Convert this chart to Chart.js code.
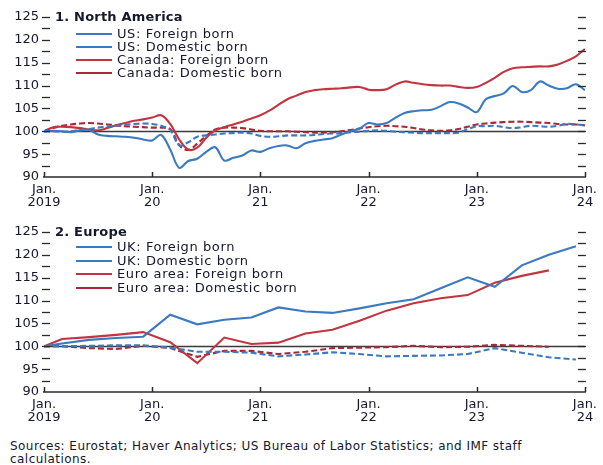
<!DOCTYPE html>
<html>
<head>
<meta charset="utf-8">
<script src="https://cdn.jsdelivr.net/npm/chart.js@4.4.1/dist/chart.umd.min.js"></script>
<style>
  html, body { margin: 0; padding: 0; background: #fff; }
  body { width: 603px; height: 465px; position: relative; overflow: hidden;
         font-family: "DejaVu Sans", "Liberation Sans", sans-serif; color: #16162e; }
  .cv { position: absolute; left: 0; }
  .title { position: absolute; left: 55px; font-weight: bold; font-size: 13px; line-height: 16px; white-space: nowrap; letter-spacing: 0.2px; }
  .lg-line { position: absolute; left: 76px; width: 36px; height: 0; border-top: 2px solid; }
  .lg-text { position: absolute; left: 117px; font-size: 13px; line-height: 16px; white-space: nowrap; letter-spacing: 0.6px; }
  .foot { position: absolute; left: 10px; top: 440px; font-size: 12px; line-height: 13px; white-space: nowrap; letter-spacing: 0.45px; }
</style>
</head>
<body>
<canvas id="c1" class="cv" width="603" height="210" style="top:0px"></canvas>
<canvas id="c2" class="cv" width="603" height="210" style="top:215px"></canvas>

<div class="title" style="top:9px">1. North America</div>
<div id="lg1"></div>
<div class="title" style="top:224px">2. Europe</div>
<div id="lg2"></div>

<div class="foot">Sources: Eurostat; Haver Analytics; US Bureau of Labor Statistics; and IMF staff<br>calculations.</div>

<script>
// ---------- data ----------
const yearLabels = ['2019', '20', '21', '22', '23', '24'];

// Panel 1: monthly, Jan 2019 (index 0) to Jan 2024 (index 60)
const usForeign = [100.0,100.1,100.0,99.8,100.2,100.3,99.3,99.0,98.9,98.8,98.6,98.2,98.0,99.2,96.0,92.0,93.5,94.0,95.5,96.5,93.6,94.2,94.7,95.8,95.5,96.3,96.8,96.9,
  96.3,97.4,97.9,98.2,98.5,99.3,100.0,100.6,101.8,101.5,101.8,103.0,104.0,104.4,104.6,104.7,105.5,106.4,106.1,105.2,104.2,107.0,107.7,108.3,109.9,108.6,109.0,110.9,110.0,109.3,109.4,110.3,109.0];
const usDomestic = [100.0,100.0,99.9,100.0,100.3,100.5,100.8,101.0,101.2,101.4,101.6,101.7,101.6,101.2,100.3,96.9,97.6,98.8,99.1,99.3,99.5,99.6,99.7,99.5,99.0,98.8,98.9,99.1,
  99.1,99.1,99.2,99.4,99.5,99.6,99.8,99.9,100.1,100.2,100.1,99.9,99.8,99.7,99.6,99.6,99.6,99.6,99.7,100.5,101.1,101.1,101.2,100.9,100.7,100.9,101.2,101.1,101.0,101.2,101.6,101.5,101.3];
const canadaForeign = [100.0,100.9,101.0,100.9,100.7,100.4,100.2,100.7,101.3,101.8,102.3,102.6,103.0,103.5,101.6,98.2,96.0,96.4,98.6,100.2,100.9,101.5,102.1,102.8,103.5,104.5,105.8,107.0,
  107.8,108.6,109.0,109.2,109.3,109.4,109.6,109.7,109.1,109.0,109.2,110.2,110.9,110.6,110.3,110.1,110.0,110.0,109.7,109.5,109.7,110.6,111.7,113.0,113.8,114.0,114.1,114.2,114.2,114.6,115.4,116.4,118.0];
const canadaDomestic = [100.0,100.7,101.2,101.5,101.7,101.8,101.7,101.5,101.3,101.1,101.0,100.9,100.8,100.8,100.5,97.0,95.9,97.3,99.0,100.4,100.8,100.8,100.7,100.4,100.1,100.0,100.0,100.0,
  99.9,99.8,99.7,99.7,99.8,100.0,100.3,100.6,100.9,101.1,101.2,101.1,101.0,100.7,100.4,100.2,100.1,100.2,100.5,101.0,101.5,101.7,101.9,102.0,102.1,102.1,102.0,101.9,101.8,101.6,101.5,101.5,101.3];

// Panel 2: quarterly observations, at month index from Jan 2019
const europeMonths = [0,2,5,8,11,14,17,20,23,26,29,32,35,38,41,44,47,50,53,56,59];
const ukForeign = [100.0,100.6,101.4,101.8,102.1,106.9,104.8,105.8,106.3,108.5,107.6,107.3,108.3,109.4,110.3,112.7,115.1,113.0,117.7,120.0,121.9];
const ukDomestic = [100.0,100.0,100.1,100.2,100.2,99.7,98.8,98.8,98.6,97.8,98.2,98.7,98.3,97.8,97.9,98.0,98.3,99.6,98.6,97.6,97.1];
const euroForeign = [100.0,101.6,102.0,102.5,103.1,100.9,96.3,101.9,100.5,100.8,102.8,103.6,105.6,107.8,109.4,110.5,111.2,113.9,115.4,116.6,null];
const euroDomestic = [100.0,100.0,99.6,99.4,100.1,99.6,97.7,99.0,99.0,98.3,98.8,99.6,99.7,99.8,100.1,99.8,99.9,100.3,100.1,99.9,null];

// ---------- styling ----------
const BLUE = '#3b79c0';
const RED = '#c2343f';
const DRED = '#a92738';
const TXT = '#16162e';
const FONT = "'DejaVu Sans', 'Liberation Sans', sans-serif";

function monthlyPoints(arr) { return arr.map((v, i) => ({ x: i, y: v })); }
function quarterPoints(arr) { return arr.map((v, i) => ({ x: europeMonths[i], y: v })).filter(p => p.y !== null); }

const axesPlugin = {
  id: 'axesPlugin',
  beforeDatasetsDraw(chart) {
    const { ctx, chartArea: a, scales: { y } } = chart;
    const py = Math.round(y.getPixelForValue(100)) + 0.5;
    ctx.save();
    ctx.strokeStyle = '#3a3a3a';
    ctx.lineWidth = 1.5;
    ctx.beginPath(); ctx.moveTo(a.left, py); ctx.lineTo(a.right, py); ctx.stroke();
    ctx.restore();
  },
  afterDraw(chart) {
    const { ctx, chartArea: a, scales: { x, y } } = chart;
    ctx.save();
    ctx.strokeStyle = '#2a2a2a';
    ctx.lineWidth = 1.5;
    ctx.beginPath(); ctx.moveTo(a.left - 1, a.bottom); ctx.lineTo(a.right + 1, a.bottom); ctx.stroke();
    for (let m = 0; m <= 60; m += 12) {
      const px = Math.round(x.getPixelForValue(m)) + 0.5;
      ctx.beginPath(); ctx.moveTo(px, a.bottom); ctx.lineTo(px, a.bottom - 5); ctx.stroke();
    }
    ctx.lineWidth = 1.3;
    for (let k = 1; k <= 14; k++) {
      const v = 90 + 2.5 * k;
      const py = Math.round(y.getPixelForValue(v)) + 0.5;
      ctx.beginPath(); ctx.moveTo(a.left - 2, py); ctx.lineTo(a.left + 6, py); ctx.stroke();
      ctx.beginPath(); ctx.moveTo(a.right - 7, py); ctx.lineTo(a.right + 1, py); ctx.stroke();
    }
    ctx.restore();
  }
};

function makeChart(id, datasets, tension) {
  return new Chart(document.getElementById(id), {
    type: 'line',
    data: { datasets },
    plugins: [axesPlugin],
    options: {
      responsive: false,
      animation: false,
      devicePixelRatio: 1,
      layout: { padding: { top: 17, right: 13, left: 0, bottom: 0 } },
      elements: { point: { radius: 0 }, line: { borderWidth: 2.1, tension } },
      plugins: { legend: { display: false }, tooltip: { enabled: false } },
      scales: {
        x: {
          type: 'linear', min: 0, max: 60,
          grid: { display: false, drawTicks: false }, border: { display: false },
          ticks: {
            stepSize: 12, autoSkip: false, maxRotation: 0, padding: 6, color: TXT,
            font: { family: FONT, size: 13, lineHeight: 1.0 },
            callback: v => (v % 12 === 0 ? ['Jan.', yearLabels[v / 12]] : '')
          },
          afterFit: s => { s.height = 33; }
        },
        y: {
          min: 90, max: 125,
          grid: { display: false, drawTicks: false }, border: { display: false },
          ticks: { stepSize: 5, padding: 5, color: TXT, font: { family: FONT, size: 13 } },
          afterFit: s => { s.width = 44; }
        }
      }
    }
  });
}

makeChart('c1', [
  { label: 'US: Foreign born', data: monthlyPoints(usForeign), borderColor: BLUE },
  { label: 'US: Domestic born', data: monthlyPoints(usDomestic), borderColor: BLUE, borderDash: [6, 3] },
  { label: 'Canada: Foreign born', data: monthlyPoints(canadaForeign), borderColor: RED },
  { label: 'Canada: Domestic born', data: monthlyPoints(canadaDomestic), borderColor: DRED, borderDash: [6, 3] }
], 0.35);

makeChart('c2', [
  { label: 'UK: Foreign born', data: quarterPoints(ukForeign), borderColor: BLUE },
  { label: 'UK: Domestic born', data: quarterPoints(ukDomestic), borderColor: BLUE, borderDash: [6, 3] },
  { label: 'Euro area: Foreign born', data: quarterPoints(euroForeign), borderColor: RED },
  { label: 'Euro area: Domestic born', data: quarterPoints(euroDomestic), borderColor: DRED, borderDash: [6, 3] }
], 0);

// ---------- legends (HTML text) ----------
function legend(id, items, rows) {
  const host = document.getElementById(id);
  items.forEach((it, i) => {
    const l = document.createElement('div');
    l.className = 'lg-line';
    l.style.top = (rows[i] - 1) + 'px';
    l.style.borderTopColor = it[1];
    host.appendChild(l);
    const t = document.createElement('div');
    t.className = 'lg-text';
    t.style.top = (rows[i] - 8) + 'px';
    t.textContent = it[0];
    host.appendChild(t);
  });
}
legend('lg1', [['US: Foreign born', BLUE], ['US: Domestic born', BLUE], ['Canada: Foreign born', RED], ['Canada: Domestic born', DRED]], [34, 47, 60, 73]);
legend('lg2', [['UK: Foreign born', BLUE], ['UK: Domestic born', BLUE], ['Euro area: Foreign born', RED], ['Euro area: Domestic born', DRED]], [247, 261, 274, 288]);
</script>
</body>
</html>
